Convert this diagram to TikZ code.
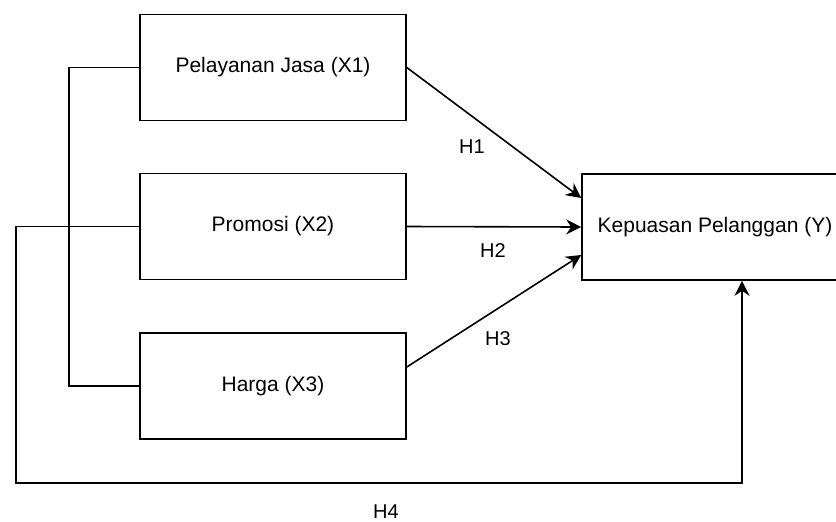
\documentclass[tikz,border=0pt]{standalone}
\usepackage{fontspec}
\setmainfont{Liberation Sans}
\usetikzlibrary{positioning,arrows.meta}
\tikzset{
  var/.style={draw, line width=0.8pt, minimum width=133pt, minimum height=53pt,
    inner sep=0pt, font=\fontsize{10.5}{12}\selectfont},
  link/.style={line width=0.8pt},
  arrowlink/.style={link, -{Stealth[length=7.5pt,width=7.5pt,inset=2.5pt]}},
  hlabel/.style={font=\fontsize{10}{12}\selectfont}
}
\begin{document}
\begin{tikzpicture}[x=0.5pt,y=-0.5pt]
  \useasboundingbox (0,0) rectangle (836,521);
  % variables
  \node[var] (x1) at (273,67.5) {Pelayanan Jasa (X1)};
  \node[var] (x2) at (273,226.5) {Promosi (X2)};
  \node[var] (x3) at (273,386) {Harga (X3)};
  \node[var] (y) at (715,227) {Kepuasan Pelanggan (Y)};
  % corners of the side lines
  \coordinate (b1) at (69,67.5);
  \coordinate (b4a) at (16,226.5);
  \coordinate (b4b) at (742,483);
  \draw[link] (x1.west) -- (b1) |- (x3.west);
  \draw[arrowlink] (x2.west) -- (b4a) |- (b4b) -- (b4b |- y.south);
  % hypotheses
  \draw[arrowlink] (x1.east) -- ([yshift=14.5pt]y.west);
  \draw[arrowlink] (x2.east) -- (y.west);
  \draw[arrowlink] ([yshift=9.5pt]x3.east) -- ([yshift=-14pt]y.west);
  \node[hlabel] (h1) at (472,147) {H1};
  \node[hlabel] (h2) at (493,251) {H2};
  \node[hlabel] (h3) at (498,339) {H3};
  \node[hlabel] (h4) at (386,512) {H4};
\end{tikzpicture}
\end{document}
